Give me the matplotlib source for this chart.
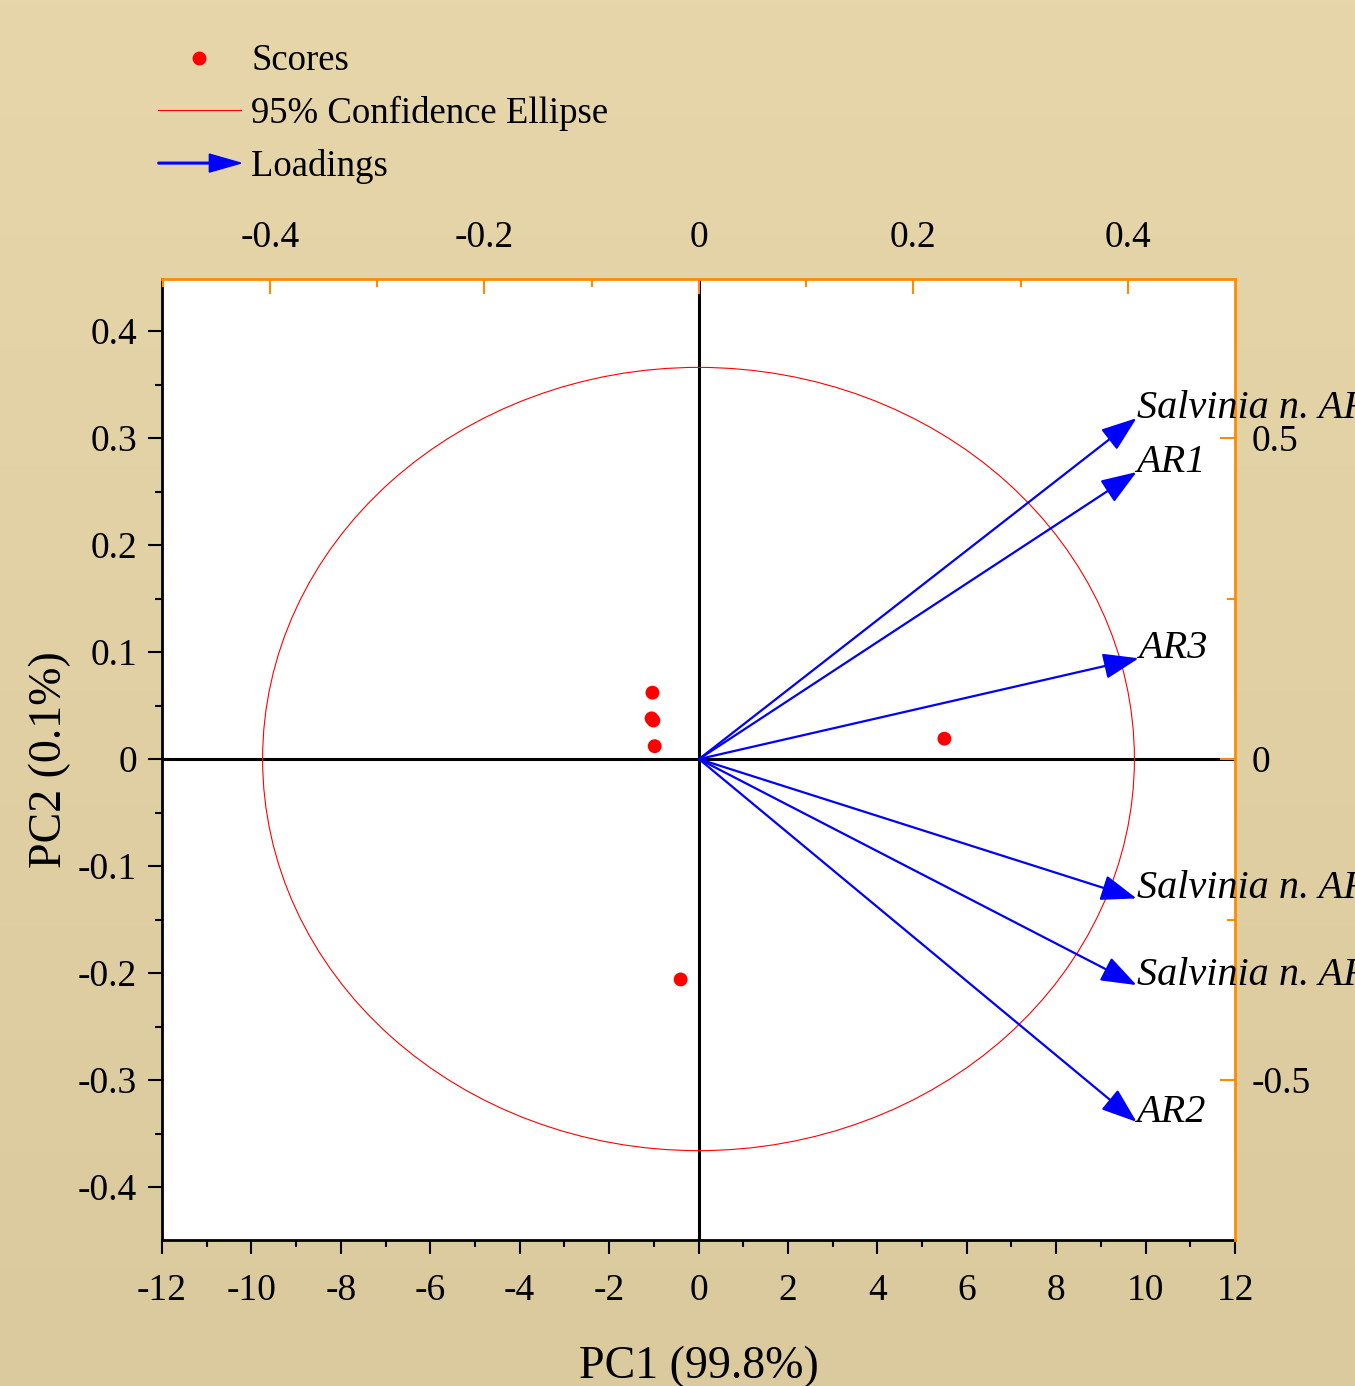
import numpy as np
import matplotlib
matplotlib.use("Agg")
import matplotlib.pyplot as plt
from matplotlib.lines import Line2D
from matplotlib.patches import Ellipse, FancyArrow, Patch
from matplotlib.legend_handler import HandlerPatch
from matplotlib.ticker import MultipleLocator

plt.rcParams['font.family'] = ['Liberation Serif', 'DejaVu Serif']

# scores (PC1, PC2)
score_pc1 = [-1.03, -1.05, -1.01, -0.98, 5.50, -0.40]
score_pc2 = [0.062, 0.038, 0.036, 0.012, 0.019, -0.206]

# loadings (PC1, PC2)
load_names = ['Salvinia n. AR4', 'AR1', 'AR3', 'Salvinia n. AR5', 'Salvinia n. AR6', 'AR2']
load_pc1 = [0.408, 0.408, 0.410, 0.408, 0.408, 0.408]
load_pc2 = [0.531, 0.447, 0.157, -0.217, -0.352, -0.565]

# 95% confidence ellipse (half widths in score units)
ell_rx = 9.75
ell_ry = 0.366

W, H = 1355, 1386
fig = plt.figure(figsize=(W / 100, H / 100), dpi=100)

# background gradient
bg = fig.add_axes([0, 0, 1, 1], zorder=-10)
grad = np.linspace(0, 1, 256).reshape(-1, 1)
top_c = np.array([230, 214, 170]) / 255
bot_c = np.array([218, 202, 158]) / 255
img = top_c[None, None, :] * (1 - grad[:, :, None]) + bot_c[None, None, :] * grad[:, :, None]
bg.imshow(img, aspect='auto', extent=[0, 1, 0, 1])
bg.axis('off')

rect = [162 / W, (H - 1240) / H, (1235 - 162) / W, (1240 - 279) / H]
ax = fig.add_axes(rect)
ax.set_facecolor('white')
ax.set_xlim(-12, 12)
ax.set_ylim(-0.4495, 0.4486)

ax2 = fig.add_axes(rect, label='loadings')
ax2.set_facecolor('none')
ax2.set_xlim(-0.5007, 0.4998)
ax2.set_ylim(-0.749, 0.7477)

orange = '#FF8C00'
for s in ['top', 'right']:
    ax.spines[s].set_visible(False)
for s in ['left', 'bottom']:
    ax.spines[s].set_linewidth(2.0)
    ax2.spines[s].set_visible(False)
for s in ['top', 'right']:
    ax2.spines[s].set_color(orange)
    ax2.spines[s].set_linewidth(2.0)

ax.xaxis.set_major_locator(MultipleLocator(2))
ax.xaxis.set_minor_locator(MultipleLocator(1))
ax.yaxis.set_major_locator(MultipleLocator(0.1))
ax.yaxis.set_minor_locator(MultipleLocator(0.05))
ax.tick_params(which='both', direction='out', width=1.5, labelsize=27)
ax.tick_params(which='major', length=10)
ax.tick_params(which='minor', length=5)
ax.tick_params(axis='x', pad=14)
ax.tick_params(axis='y', pad=8)
ax.set_xticks(np.arange(-12, 13, 2))
ax.set_xticklabels([str(v) for v in range(-12, 13, 2)])
yt = np.round(np.arange(-0.4, 0.41, 0.1), 1)
ax.set_yticks(yt)
ax.set_yticklabels(['0' if v == 0 else f'{v:g}' for v in yt])

ax2.xaxis.tick_top()
ax2.yaxis.tick_right()
ax2.xaxis.set_major_locator(MultipleLocator(0.2))
ax2.xaxis.set_minor_locator(MultipleLocator(0.1))
ax2.yaxis.set_major_locator(MultipleLocator(0.5))
ax2.yaxis.set_minor_locator(MultipleLocator(0.25))
ax2.tick_params(which='both', direction='in', color=orange, width=1.5, labelsize=27)
ax2.tick_params(which='major', length=11)
ax2.tick_params(which='minor', length=6)
ax2.tick_params(axis='x', pad=17)
ax2.tick_params(axis='y', pad=12)
ax2.set_xticks([-0.4, -0.2, 0, 0.2, 0.4])
ax2.set_xticklabels(['-0.4', '-0.2', '0', '0.2', '0.4'])
ax2.set_yticks([-0.5, 0, 0.5])
ax2.set_yticklabels(['-0.5', '0', '0.5'])

ax.set_xlabel('PC1 (99.8%)', fontsize=33, labelpad=27)
ax.set_ylabel('PC2 (0.1%)', fontsize=33, labelpad=5)

# zero lines
ax.axhline(0, color='black', lw=2.2, zorder=2)
ax.axvline(0, color='black', lw=2.2, zorder=2)

# ellipse
ax.add_patch(Ellipse((0, 0), 2 * ell_rx, 2 * ell_ry, fill=False, edgecolor='red', lw=0.8, zorder=3))

# scores
ax.scatter(score_pc1, score_pc2, s=100, color='red', zorder=5, edgecolors='none')

# loadings
for name, lx, ly in zip(load_names, load_pc1, load_pc2):
    ax2.annotate('', xy=(lx, ly), xytext=(0, 0),
                 arrowprops=dict(arrowstyle='-|>,head_length=1.1,head_width=0.4', color='blue',
                                 lw=1.6, mutation_scale=20, shrinkA=0, shrinkB=0), zorder=6)
    ax2.text(lx, ly, name, fontsize=29, style='italic', ha='left', va='baseline',
             zorder=7, clip_on=False)


class HandlerArrow(HandlerPatch):
    def create_artists(self, legend, orig_handle, xdescent, ydescent, width, height, fontsize, trans):
        p = FancyArrow(-xdescent, height / 2 - ydescent, width, 0, width=1.2,
                       head_width=height * 0.7, head_length=width * 0.38,
                       length_includes_head=True, color='blue')
        p.set_transform(trans)
        return [p]


h_scores = Line2D([], [], marker='o', color='red', ls='none', ms=10, markeredgewidth=0)
h_ell = Line2D([], [], color='red', lw=0.8)
h_load = Patch(color='blue')
fig.legend([h_scores, h_ell, h_load], ['Scores', '95% Confidence Ellipse', 'Loadings'],
           handler_map={h_load: HandlerArrow()}, loc='upper left',
           bbox_to_anchor=(158 / W, 1 - 44 / H), frameon=False, fontsize=26.5,
           handlelength=2.25, handletextpad=0.28, labelspacing=0.48, borderaxespad=0,
           borderpad=0)

fig.savefig('out.png', dpi=100)
